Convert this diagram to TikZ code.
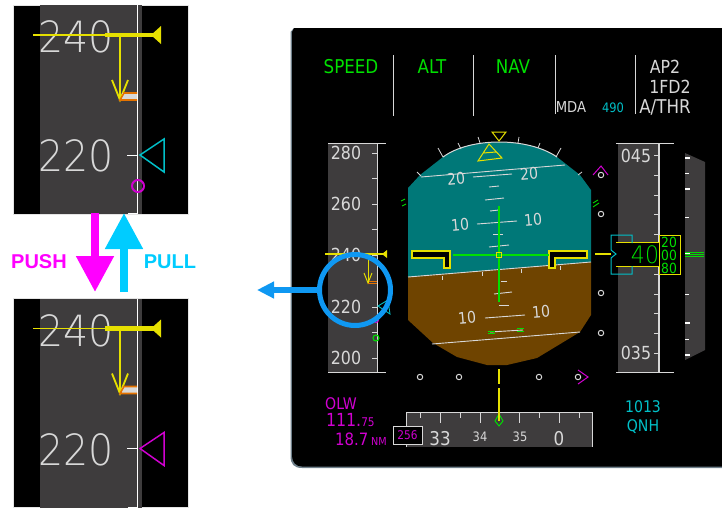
\documentclass[tikz,border=0pt]{standalone}
\usepackage{fontspec}
\usepackage{tikz}
\usetikzlibrary{arrows.meta,positioning,calc}
\newfontfamily\pfdlight[FakeStretch=0.92]{DejaVu Sans ExtraLight}
\newfontfamily\pfdfont[FakeStretch=0.88]{DejaVu Sans}
\setmainfont{Liberation Sans}
\definecolor{tapegray}{HTML}{3E3C3D}
\definecolor{skyteal}{HTML}{007878}
\definecolor{earthbrown}{HTML}{6F4400}
\definecolor{pfdyellow}{HTML}{E6E000}
\definecolor{pfdgreen}{HTML}{00E000}
\definecolor{pfdcyan}{HTML}{00C0C8}
\definecolor{pfdmag}{HTML}{D000D0}
\definecolor{pfdwhite}{HTML}{D8D8D8}
\definecolor{edgegray}{HTML}{6E7F8A}
\definecolor{circblue}{HTML}{0F98F2}
\definecolor{pushmag}{HTML}{FF00FF}
\definecolor{pullcyan}{HTML}{00CCFF}

\begin{document}
\begin{tikzpicture}[x=1pt,y=-1pt,
  every node/.style={inner sep=0pt,outer sep=0pt},
  pfdtext/.style={font=\fontsize{#1}{#1}\selectfont\pfdfont},
  wtext/.style={pfdtext=#1,text=pfdwhite},
  gtext/.style={pfdtext=#1,text=pfdgreen},
  ctext/.style={pfdtext=#1,text=pfdcyan},
  mtext/.style={pfdtext=#1,text=pfdmag},
  ptext/.style={pfdtext=18,text=pfdwhite},
  bigtext/.style={font=\fontsize{43}{43}\selectfont\pfdlight,text=pfdwhite},
  tape/.style={fill=tapegray},
  wline/.style={draw=pfdwhite,line width=1pt},
  ring/.style={draw=pfdwhite,line width=1pt,fill=black},
  wing/.style={draw=pfdyellow,line width=1.2pt,fill=black,line join=miter},
  bigarrow/.style={line width=8pt,-{Triangle[width=36pt,length=36pt]}},
  btnlabel/.style={font=\fontsize{20}{20}\selectfont\bfseries}]

\useasboundingbox (0,0) rectangle (722,509);

% two enlarged speed tapes
\foreach \yo/\bugcol/\nm in {0/pfdcyan/topinset,293.5/pfdmag/botinset}{
  \begin{scope}[yshift=-\yo pt]
    \fill[black] (13,5) rectangle (188,214);
    \draw[pfdwhite!70,line width=.6pt] (13,5) rectangle (188,214);
    \fill[tape] (40,5) rectangle (137,214);
    \fill[tapegray] (138,5) rectangle (142,214);
    \draw[white,line width=1pt] (137,5) -- (137,214);
    \node[bigtext] (\nm240) at (76,37) {240};
    \node[bigtext] (\nm220) at (76,156) {220};
    \draw[white,line width=1pt] (127,155) -- (137,155);
    \draw[white,line width=1pt] (128,213.5) -- (137,213.5);
    % target speed bar and trend
    \draw[pfdyellow,line width=1.6pt] (33,35) -- (105,35);
    \draw[pfdyellow,line width=4.5pt] (105,35) -- (155,35);
    \fill[pfdyellow] (151,35) -- (161,26) -- (161,44) -- cycle;
    \draw[pfdyellow,line width=1.6pt] (120,35) -- (120,100);
    \draw[pfdyellow,line width=1.8pt] (112,80) -- (120,100) -- (128,80);
    \fill[pfdwhite] (122,93) rectangle (137,100);
    \draw[orange!90!black,line width=1.6pt] (137,93) -- (124,93) -- (120,100) -- (137,100);
    \draw[\bugcol,line width=1.5pt] (140,155) -- (164,139) -- (164,172) -- cycle;
  \end{scope}
}
\draw[pfdmag,line width=2pt] (138,186) circle (6);

% push and pull arrows
\coordinate (pushstart) at (95,212.5);
\coordinate (pushend) at (95,292);
\coordinate (pullstart) at (124,292);
\coordinate (pullend) at (124,213);
\draw[bigarrow,pushmag] (pushstart) -- (pushend);
\draw[bigarrow,pullcyan] (pullstart) -- (pullend);
\node[btnlabel,text=pushmag] (pushlabel) at (39,262) {PUSH};
\node[btnlabel,text=pullcyan] (pulllabel) at (170,262) {PULL};

% display panel
\fill[edgegray] (294,28) -- (290.5,32) -- (290.5,456) .. controls (290.5,464) and (294,468) .. (302,468)
  -- (722,468) -- (722,28) -- cycle;
\fill[black] (294,28) -- (292,32) -- (292,456) .. controls (292,462) and (296,466.5) .. (302,466.5)
  -- (722,466.5) -- (722,28) -- cycle;

% mode annunciators
\foreach \xx/\yy in {393/116,473/116,555/114,635/114}{
  \draw[pfdwhite,line width=.9pt] (\xx,55) -- (\xx,\yy);
}
\node[gtext=19] (speedmode) at (351,67) {SPEED};
\node[gtext=19] (altmode) at (432,67) {ALT};
\node[gtext=19] (navmode) at (513,67) {NAV};
\node[wtext=18] (apmode) at (665,67) {AP2};
\node[wtext=18] (fdmode) at (670,87) {1FD2};
\node[wtext=15] (mdamode) at (571,107) {MDA};
\node[ctext=13] (mdaval) at (613,108) {490};
\node[wtext=19] (thrmode) at (665,107) {A/THR};

% left speed tape
\fill[tape] (328,143) rectangle (377,373);
\draw[wline] (328,143.5) -- (386,143.5);
\draw[wline] (328,372.5) -- (386,372.5);
\draw[wline] (377,143) -- (377,373);
\foreach \vv/\yy in {280/153,260/204,240/255,220/307,200/358}{
  \node[ptext] (spd\vv) at (346,\yy) {\vv};
}
\foreach \yy in {153,178.5,204,229.5,255,281,307,332.5,358}{
  \draw[wline] (372,\yy) -- (377,\yy);
}
\draw[pfdyellow,line width=1.2pt] (325,254) -- (385,254);
\fill[pfdyellow] (382,254) -- (387,250) -- (387,258) -- cycle;
\draw[pfdyellow,line width=1pt] (368,254) -- (368,283);
\draw[pfdyellow,line width=1pt] (364,273) -- (368,283) -- (372,273);
\draw[orange!90!black,line width=1pt] (368,283) -- (377,283) (369,281) -- (377,281);
\draw[pfdcyan,line width=.9pt] (378,306) -- (388,300) -- (390,314) -- cycle;
\draw[pfdmag,line width=1pt] (376,320) circle (2.5);
\draw[pfdgreen,line width=1.1pt] (376,338) circle (3);

% attitude sphere
\fill[skyteal] (408,277) -- (408,188) -- (420,175) -- (443,157)
  .. controls (470,137) and (528,137) .. (557,157) -- (580,175) -- (591,190) -- (591,262) -- cycle;
\fill[earthbrown] (408,277) -- (591,262) -- (591,315) -- (580,332) -- (537,358) -- (507,365)
  -- (487,365) -- (457,357) -- (433,343) -- (408,320) -- cycle;
\draw[pfdwhite,line width=1pt] (443,157) .. controls (470,137) and (528,137) .. (557,157);
\foreach \xa/\ya/\xb/\yb in {438/148/443/157,458/143/461/149,478/137/480/143,519/137/518/143,
  540/143/538/148,561/148/556/157,417/172/421/176,582/172/578/175}{
  \draw[pfdwhite,line width=.8pt] (\xa,\ya) -- (\xb,\yb);
}
% pitch scale
\foreach \xa/\ya/\xb/\yb in {421/177/565/165,473/177/512/174,489/187/499/186,485/200/504/198,
  490/211/499/210,477/224/517/221,493/234/503/234,489/247/509/245,408/277/591/262,
  501/281/507/281,494/294/512/292,499/305/509/305,485/318/525/315,490/332/523/330,432/344/580/332}{
  \draw[pfdwhite,line width=.9pt] (\xa,\ya) -- (\xb,\yb);
}
\foreach \xa/\ya/\yb in {442/276/280,482/272/276,521/269/273,560/266/270}{
  \draw[pfdwhite,line width=.8pt] (\xa,\ya) -- (\xa,\yb);
}
\foreach \nm/\tx/\xx/\yy in {pa/20/456/179,pb/20/529/174,pc/10/460/225,pd/10/533/220,pe/10/467/318,pf/10/541/312}{
  \node[wtext=16,rotate=5] (\nm) at (\xx,\yy) {\tx};
}
\draw[pfdgreen,line width=1pt] (488,331) -- (495,331) (488,333.5) -- (495,333.5)
  (517,328.5) -- (524,328.5) (517,331) -- (524,331);
% roll index and bank pointer
\draw[pfdyellow,line width=1pt] (492,132) -- (506,132) -- (499,141) -- cycle;
\draw[pfdyellow,line width=1pt] (489,144) -- (502,158) -- (478,161) -- cycle (483,153) -- (496,152);
\draw[pfdgreen,line width=.9pt] (401,201) -- (405,199) (402,206) -- (406,204)
  (593,203) -- (598,200) (593,207) -- (599,203);
% aircraft symbol
\draw[wing] (412,251) -- (450,251) -- (450,268) -- (444,268) -- (444,258) -- (412,258) -- cycle;
\draw[wing] (587,251) -- (549,251) -- (549,268) -- (555,268) -- (555,258) -- (587,258) -- cycle;
\draw[pfdgreen,line width=1.3pt] (453,255) -- (549,255);
\draw[pfdgreen,line width=1.3pt] (499,206) -- (499,302);
\draw[pfdyellow,line width=.9pt] (496.5,252.5) rectangle (501.5,257.5);
% deviation scales
\foreach \xx/\yy in {601/175,601/214,601/293,601/333,420/377,459/377,539/377}{
  \draw[ring] (\xx,\yy) circle (2.7);
}
\draw[ring] (578,377) circle (2.7);
\draw[pfdmag,line width=1pt] (593,175) -- (601,166) -- (608,175);
\draw[pfdmag,line width=1pt] (578,370) -- (588,377) -- (578,384);
\draw[pfdyellow,line width=1.4pt] (499,369) -- (499,384);

% altitude tape
\fill[tape] (618,144) rectangle (659,373);
\draw[wline] (616,143.5) -- (674,143.5);
\draw[wline] (616,372.5) -- (674,372.5);
\draw[pfdwhite,line width=1.2pt] (659,144) -- (659,373);
\foreach \yy in {155,175,195,214.5,234.5,254,274,294,313.5,333.5,353}{
  \draw[wline] (654,\yy) -- (659,\yy);
}
\node[ptext] (alta) at (636,156) {045};
\node[ptext] (altb) at (636,353) {035};
\fill[black] (616,243) rectangle (659,266);
\draw[pfdyellow,line width=1pt] (616,242.5) -- (659,242.5) (616,266) -- (659,266);
\draw[pfdcyan,line width=1pt] (632,243) -- (632,235) -- (611,235) -- (611,250) -- (616,254)
  -- (611,258) -- (611,274) -- (632,274) -- (632,266);
\draw[pfdyellow,line width=1.6pt] (595,254) -- (611,254);
\fill[black] (659,235) rectangle (680,274);
\draw[pfdyellow,line width=1pt] (659,235) rectangle (680,274);
\node[font=\fontsize{24}{24}\selectfont\pfdlight,text=pfdgreen] (altmain) at (645,255) {40};
\node[gtext=14] (alttop) at (669,242) {20};
\node[gtext=14] (altmid) at (669,255) {00};
\node[gtext=14] (altbot) at (669,268) {80};

% vertical speed
\fill[tape] (685,153) -- (705,162) -- (705,350) -- (685,360) -- cycle;
\foreach \yy in {158,189,254,323,355}{
  \draw[white,line width=1.6pt] (685,\yy) -- (689.5,\yy);
}
\foreach \yy in {173,217,294,339}{
  \draw[white,line width=1pt] (685,\yy) -- (689,\yy);
}
\draw[pfdgreen,line width=.7pt] (685,252) -- (704,252) (685,254) -- (704,254) (685,256) -- (704,256);

% heading tape and approach data
\fill[tape] (406,412) rectangle (592,447);
\draw[pfdwhite,line width=1pt] (406,447) -- (406,412) -- (592,412) -- (592,447);
\foreach \xx/\yy in {420/418,440/423,460/418,480/423,519/423,539/418,559/423,579/418}{
  \draw[pfdwhite,line width=.8pt] (\xx,412) -- (\xx,\yy);
}
\node[wtext=19] (hdga) at (440,439) {33};
\node[wtext=13] (hdgb) at (480,437) {34};
\node[wtext=13] (hdgc) at (520,437) {35};
\node[wtext=19] (hdgd) at (559,439) {0};
\draw[pfdgreen,line width=.9pt] (499,414) -- (503,421) -- (499,426) -- (495,421) -- cycle;
\draw[pfdyellow,line width=1.4pt] (499,388) -- (499,421);
\node[draw=pfdwhite,line width=.8pt,fill=black,minimum width=29pt,minimum height=18pt,mtext=12] (crsbox) at (407.5,435) {256};
\node[mtext=16] (idlabel) at (341,404) {OLW};
\node[mtext=18,anchor=west] (freqlabel) at (326,420) {111.{\fontsize{12}{12}\selectfont\pfdfont 75}};
\node[mtext=17,anchor=west] (dmelabel) at (335,439) {18.7\,{\fontsize{11}{11}\selectfont\pfdfont NM}};
\node[ctext=16] (baroval) at (643,407) {1013};
\node[ctext=16] (barolabel) at (643,427) {QNH};

% highlight circle and its arrow
\node[draw=circblue,line width=5pt,circle,minimum size=71pt] (focusring) at (355,290) {};
\coordinate (focustip) at (257,290);
\draw[circblue,line width=6pt,-{Triangle[width=16pt,length=17pt]}] (focusring.west) -- (focustip);

\end{tikzpicture}
\end{document}
